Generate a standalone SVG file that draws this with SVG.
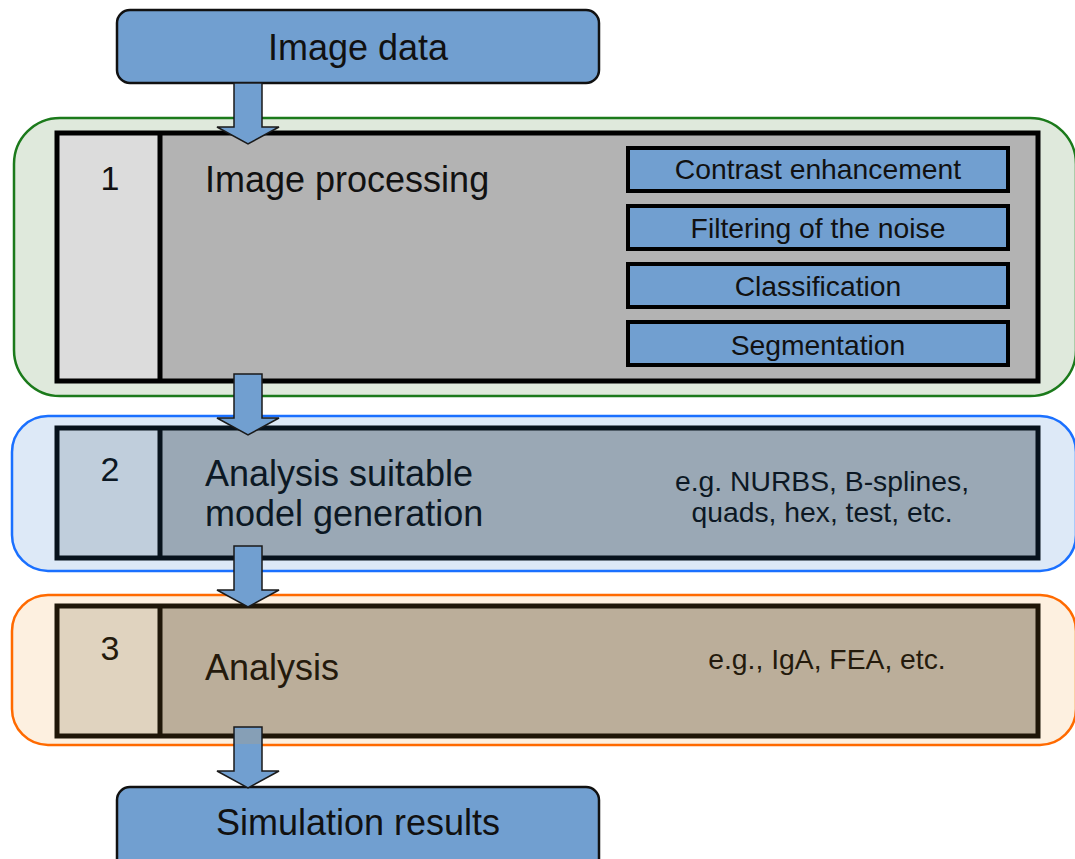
<svg xmlns="http://www.w3.org/2000/svg" width="1075" height="859" viewBox="0 0 1075 859">
  <style>
    .t { font-family: "Liberation Sans", Arial, sans-serif; fill: #111; }
    .t2 { fill: #0c1824; }
    .t3 { fill: #241a0c; }
    .big { font-size: 36px; }
    .mid { font-size: 34px; }
    .sm { font-size: 28.3px; }
    .io { fill: #719fd0; stroke: #111; stroke-width: 2.5; }
    .sub { fill: #719fd0; stroke: #000; stroke-width: 4; }
    .arrow { fill: #719fd0; stroke: #1a1a1a; stroke-width: 1.5; stroke-linejoin: miter; }
  </style>
  <defs>
    <path id="arr" d="M-14,0 H14 V44 H31 L0,61 L-31,44 H-14 Z"/>
  </defs>
  <rect width="1075" height="859" fill="#ffffff"/>

  <!-- stage containers -->
  <g id="stage1">
    <rect x="14" y="118" width="1062" height="278" rx="46" fill="#dfe9dc" stroke="#1b7a1b" stroke-width="2.5"/>
    <rect x="57" y="133" width="103" height="248" fill="#dcdcdc"/>
    <rect x="160" y="133" width="878" height="248" fill="#b3b3b3"/>
    <rect x="57" y="133" width="981" height="248" fill="none" stroke="#000" stroke-width="5"/>
    <line x1="160" y1="133" x2="160" y2="381" stroke="#000" stroke-width="5"/>
    <text class="t mid" x="110" y="190" text-anchor="middle">1</text>
    <text class="t big" x="205" y="192">Image processing</text>
  </g>

  <g id="stage2">
    <rect x="12" y="416" width="1064" height="155" rx="36" fill="#dde9f7" stroke="#1a70ff" stroke-width="2.5"/>
    <rect x="57" y="428" width="103" height="130" fill="#c0cedc"/>
    <rect x="160" y="428" width="878" height="130" fill="#9aa8b5"/>
    <rect x="57" y="428" width="981" height="130" fill="none" stroke="#07121c" stroke-width="5"/>
    <line x1="160" y1="428" x2="160" y2="558" stroke="#07121c" stroke-width="5"/>
    <text class="t t2 mid" x="110" y="481" text-anchor="middle">2</text>
    <text class="t t2 big" x="205" y="486">Analysis suitable</text>
    <text class="t t2 big" x="205" y="526">model generation</text>
    <text class="t t2 sm" x="822" y="491" text-anchor="middle">e.g. NURBS, B-splines,</text>
    <text class="t t2 sm" x="822" y="522" text-anchor="middle">quads, hex, test, etc.</text>
  </g>

  <g id="stage3">
    <rect x="12" y="595" width="1064" height="150" rx="36" fill="#fdf0e0" stroke="#ff6a00" stroke-width="2.5"/>
    <rect x="57" y="606" width="103" height="130" fill="#e0d3bf"/>
    <rect x="160" y="606" width="878" height="130" fill="#bbae9a"/>
    <rect x="57" y="606" width="981" height="130" fill="none" stroke="#1f1608" stroke-width="5"/>
    <line x1="160" y1="606" x2="160" y2="736" stroke="#1f1608" stroke-width="5"/>
    <text class="t t3 mid" x="110" y="660" text-anchor="middle">3</text>
    <text class="t t3 big" x="205" y="680">Analysis</text>
    <text class="t t3 sm" x="827" y="669" text-anchor="middle">e.g., IgA, FEA, etc.</text>
  </g>

  <!-- image processing steps -->
  <g id="step-contrast">
    <rect class="sub" x="628" y="148" width="380" height="43"/>
    <text class="t sm" x="818" y="179" text-anchor="middle">Contrast enhancement</text>
  </g>
  <g id="step-filter">
    <rect class="sub" x="628" y="206" width="380" height="43"/>
    <text class="t sm" x="818" y="238" text-anchor="middle">Filtering of the noise</text>
  </g>
  <g id="step-classify">
    <rect class="sub" x="628" y="264" width="380" height="43"/>
    <text class="t sm" x="818" y="296" text-anchor="middle">Classification</text>
  </g>
  <g id="step-segment">
    <rect class="sub" x="628" y="322" width="380" height="43"/>
    <text class="t sm" x="818" y="355" text-anchor="middle">Segmentation</text>
  </g>

  <!-- input / output -->
  <g id="image-data">
    <rect class="io" x="117" y="10" width="482" height="73" rx="13"/>
    <text class="t big" x="358" y="60" text-anchor="middle">Image data</text>
  </g>
  <g id="simulation-results">
    <rect class="io" x="117" y="787" width="482" height="90" rx="13"/>
    <text class="t big" x="358" y="835" text-anchor="middle">Simulation results</text>
  </g>

  <!-- flow arrows -->
  <g id="connectors">
    <use href="#arr" class="arrow" x="248" y="83"/>
    <use href="#arr" class="arrow" x="248" y="374"/>
    <use href="#arr" class="arrow" x="248" y="546"/>
    <use href="#arr" class="arrow" x="248" y="727"/>
    <rect x="235" y="729" width="26" height="15" fill="#869fb6"/>
  </g>
</svg>
